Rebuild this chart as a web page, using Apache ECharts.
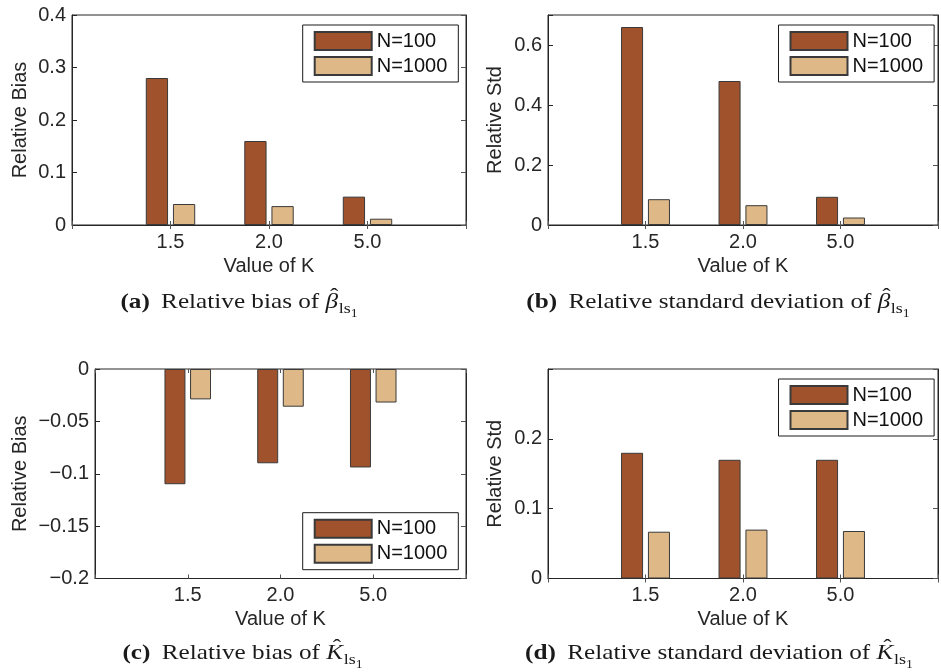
<!DOCTYPE html>
<html>
<head>
<meta charset="utf-8">
<script src="https://cdn.jsdelivr.net/npm/echarts@6/dist/echarts.min.js"></script>
<style>
  html, body { margin: 0; padding: 0; background: #fff; }
  #chart { width: 941px; height: 672px; }
</style>
</head>
<body>
<div id="chart"></div>
<script>
// Categories (value of K) and legend entries
const kValues = ['1.5', '2.0', '5.0'];
const sampleSizes = ['N=100', 'N=1000'];

// (a) relative bias of beta
const biasBetaN100 = [0.28, 0.16, 0.054];
const biasBetaN1000 = [0.04, 0.036, 0.012];
// (b) relative std of beta
const stdBetaN100 = [0.66, 0.48, 0.094];
const stdBetaN1000 = [0.086, 0.066, 0.025];
// (c) relative bias of K
const biasKN100 = [-0.11, -0.09, -0.094];
const biasKN1000 = [-0.029, -0.036, -0.032];
// (d) relative std of K
const stdKN100 = [0.18, 0.17, 0.17];
const stdKN1000 = [0.067, 0.07, 0.068];

// y tick labels for each panel
const yTicksA = [0, 0.1, 0.2, 0.3, 0.4];
const yTicksB = [0, 0.2, 0.4, 0.6];
const yTicksC = [-0.2, -0.15, -0.1, -0.05, 0];
const yTicksD = [0, 0.1, 0.2];

const barColors = ['#A0522D', '#DEB887'];
const ink = '#262626';
const axisFont = 20;

const panels = [
  { grid: { left: 72, top: 15, width: 394, height: 210 },
    yMin: 0, yMax: 0.4, step: 0.1, ticks: yTicksA, yName: 'Relative Bias', nameGap: 42,
    values: [biasBetaN100, biasBetaN1000], legend: { left: 302.7, top: 25 } },
  { grid: { left: 548, top: 15, width: 394, height: 210 },
    yMin: 0, yMax: 0.7, step: 0.2, ticks: yTicksB, yName: 'Relative Std', nameGap: 43,
    values: [stdBetaN100, stdBetaN1000], legend: { left: 778.5, top: 25 } },
  { grid: { left: 95, top: 369, width: 371, height: 209.5 },
    yMin: -0.2, yMax: 0, step: 0.05, ticks: yTicksC, yName: 'Relative Bias', nameGap: 65,
    values: [biasKN100, biasKN1000], legend: { left: 302.7, top: 512.7 } },
  { grid: { left: 548, top: 369, width: 394, height: 209.5 },
    yMin: 0, yMax: 0.3, step: 0.1, ticks: yTicksD, yName: 'Relative Std', nameGap: 43,
    values: [stdKN100, stdKN1000], legend: { left: 778.5, top: 379 } }
];

// Empty slots on both ends leave a full category gap beside the outer groups
const categories = [''].concat(kValues, ['']);
const pad = arr => ['-'].concat(arr, ['-']);

function tickFormatter(ticks) {
  return v => {
    const hit = ticks.find(t => Math.abs(t - v) < 1e-9);
    if (hit === undefined) return '';
    return String(+hit.toFixed(3)).replace('-', '\u2212');
  };
}

const grids = [], xAxes = [], yAxes = [], series = [], legends = [];
panels.forEach((p, i) => {
  grids.push(Object.assign({ show: true, borderColor: ink, borderWidth: 1, containLabel: false }, p.grid));
  // bottom category axis with labels
  xAxes.push({
    gridIndex: i, type: 'category', data: categories, boundaryGap: false,
    axisLine: { onZero: false, lineStyle: { color: ink, width: 1.2 } },
    axisTick: { inside: true, length: 4, interval: 0, lineStyle: { color: '#555' } },
    axisLabel: { interval: 0, fontSize: axisFont, color: ink, margin: 7, fontFamily: 'Liberation Sans' },
    splitLine: { show: false },
    name: 'Value of K', nameLocation: 'middle', nameGap: 31,
    nameTextStyle: { fontSize: axisFont, color: ink, fontFamily: 'Liberation Sans' }
  });
  // top axis: inward ticks only
  xAxes.push({
    gridIndex: i, type: 'category', data: categories, boundaryGap: false, position: 'top',
    axisLine: { show: false }, axisLabel: { show: false },
    axisTick: { inside: true, length: 4, interval: 0, lineStyle: { color: '#555' } },
    splitLine: { show: false }
  });
  yAxes.push({
    gridIndex: i, type: 'value', min: p.yMin, max: p.yMax, interval: p.step,
    axisLine: { show: true, onZero: false, lineStyle: { color: ink, width: 1 } },
    axisTick: { show: true, inside: true, length: 5, lineStyle: { color: ink } },
    axisLabel: { fontSize: axisFont, color: ink, margin: 6, fontFamily: 'Liberation Sans',
                 formatter: tickFormatter(p.ticks), showMaxLabel: true },
    splitLine: { show: false },
    name: p.yName, nameLocation: 'middle', nameGap: p.nameGap,
    nameTextStyle: { fontSize: axisFont, color: ink, fontFamily: 'Liberation Sans' }
  });
  // right axis: inward ticks only
  yAxes.push({
    gridIndex: i, type: 'value', min: p.yMin, max: p.yMax, interval: p.step, position: 'right',
    axisLine: { show: true, onZero: false, lineStyle: { color: ink, width: 1 } },
    axisTick: { show: true, inside: true, length: 5, lineStyle: { color: '#555' } },
    axisLabel: { show: false }, splitLine: { show: false }
  });
  p.values.forEach((vals, s) => {
    series.push({
      type: 'bar', name: sampleSizes[s],
      xAxisIndex: 2 * i, yAxisIndex: 2 * i,
      data: pad(vals),
      barWidth: '22.6%', barGap: '22%',
      itemStyle: { color: barColors[s], borderColor: '#3a3a3a', borderWidth: 1 },
      emphasis: { disabled: true },
      animation: false
    });
  });
  legends.push({
    data: sampleSizes, orient: 'vertical', left: p.legend.left, top: p.legend.top,
    icon: 'rect', itemWidth: 57, itemHeight: 18, itemGap: 5,
    padding: [6, 11, 6, 11], borderColor: '#1a1a1a', borderWidth: 1, backgroundColor: '#fff',
    selectedMode: false,
    textStyle: { fontSize: 20, color: '#111', fontFamily: 'Liberation Sans' }
  });
});

// Sub-figure captions, typeset piece by piece (bold tag, roman text, hatted symbol, subscripts)
const measureCtx = document.createElement('canvas').getContext('2d');
const serif = 'Liberation Serif';
function fontStr(pc) {
  return (pc.style || 'normal') + ' ' + (pc.weight || 'normal') + ' ' + pc.size + 'px "' + serif + '"';
}
function caption(cx, baseline, tag, body, symbol) {
  const S = 21, sx = 1.2;
  const pieces = [
    { text: tag, size: S, weight: 'bold', after: 0.45 * S },
    { text: body, size: S },
    { text: symbol, size: S, style: 'italic', hat: true, after: 0.5 },
    { text: 'ls', size: 15, dy: 4.5 },
    { text: '1', size: 11.5, dy: 8 }
  ];
  let x = 0;
  const children = [];
  pieces.forEach(pc => {
    measureCtx.font = fontStr(pc);
    const w = measureCtx.measureText(pc.text).width;
    const common = { fontSize: pc.size, fontFamily: serif, fontWeight: pc.weight || 'normal',
                     fontStyle: pc.style || 'normal', fill: '#1a1a1a', verticalAlign: 'middle', align: 'left' };
    children.push({ type: 'text', x: x, y: (pc.dy || 0) - 0.3375 * pc.size,
                    style: Object.assign({ text: pc.text }, common) });
    if (pc.hat) {
      children.push({ type: 'text', x: x + w / 2 + 2, y: -5.5 - 0.3375 * S,
                      style: Object.assign({}, common, { text: '\u02C6', fontStyle: 'normal', align: 'center' }) });
    }
    x += w + (pc.after || 0);
  });
  return { type: 'group', x: cx - x * sx / 2, y: baseline, scaleX: sx, children: children };
}

const graphics = [
  caption(239, 310, '(a)', 'Relative bias of ', '\u03B2'),
  caption(718, 310, '(b)', 'Relative standard deviation of ', '\u03B2'),
  caption(242.5, 661, '(c)', 'Relative bias of ', 'K'),
  caption(719, 661, '(d)', 'Relative standard deviation of ', 'K')
];

const chart = echarts.init(document.getElementById('chart'), null, { renderer: 'canvas' });
chart.setOption({
  animation: false,
  backgroundColor: '#fff',
  textStyle: { fontFamily: 'Liberation Sans' },
  grid: grids,
  xAxis: xAxes,
  yAxis: yAxes,
  legend: legends,
  series: series,
  graphic: graphics
});
</script>
</body>
</html>
